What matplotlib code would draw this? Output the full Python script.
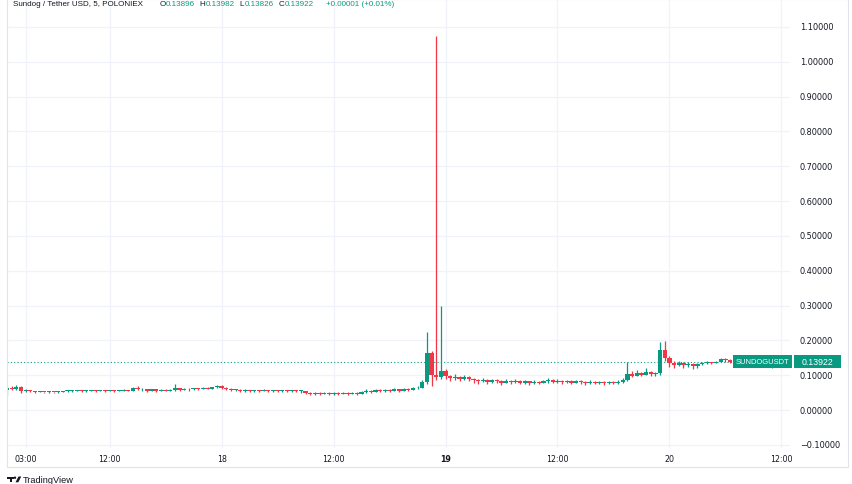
import matplotlib
matplotlib.use('Agg')
import matplotlib.pyplot as plt
from matplotlib.patches import Rectangle, Polygon, Circle
from matplotlib.transforms import Bbox

W, H, DPI = 852, 485, 100

# ---------------- data (30-minute candles, hours since 17 Jan 00:00) ----------------
start_hour = 1.0
step_hours = 0.5
first_open = 0.058

close = [
    0.064, 0.060, 0.067, 0.055, 0.057, 0.054, 0.052, 0.053, 0.051, 0.052,
    0.051, 0.053, 0.054, 0.055, 0.055, 0.056, 0.055, 0.055, 0.056, 0.055,
    0.056, 0.055, 0.056, 0.055, 0.056, 0.057, 0.055, 0.063, 0.059, 0.061,
    0.056, 0.059, 0.055, 0.058, 0.056, 0.058, 0.062, 0.058, 0.061, 0.059,
    0.062, 0.060, 0.064, 0.061, 0.065, 0.068, 0.064, 0.061, 0.057, 0.058,
    0.055, 0.057, 0.054, 0.056, 0.055, 0.057, 0.054, 0.056, 0.055, 0.056,
    0.054, 0.056, 0.054, 0.055, 0.049, 0.046, 0.049, 0.047, 0.050, 0.046,
    0.049, 0.046, 0.050, 0.047, 0.049, 0.046, 0.053, 0.056, 0.052, 0.057,
    0.054, 0.058, 0.055, 0.059, 0.056, 0.061, 0.058, 0.062, 0.064, 0.080,
    0.165, 0.100, 0.095, 0.112, 0.097, 0.091, 0.096, 0.089, 0.095, 0.090,
    0.086, 0.082, 0.087, 0.081, 0.085, 0.083, 0.079, 0.084, 0.080, 0.083,
    0.079, 0.082, 0.078, 0.081, 0.079, 0.082, 0.087, 0.081, 0.084, 0.080,
    0.083, 0.079, 0.082, 0.080, 0.077, 0.081, 0.078, 0.080, 0.077, 0.080,
    0.078, 0.081, 0.085, 0.104, 0.099, 0.107, 0.101, 0.109, 0.102, 0.105,
    0.172, 0.150, 0.134, 0.130, 0.136, 0.128, 0.133, 0.126, 0.131, 0.135,
    0.137, 0.134, 0.139, 0.146, 0.143, 0.138, 0.135, 0.139, 0.136, 0.139,
    0.140, 0.137, 0.141, 0.13896, 0.13922,
]
high = [
    0.070, 0.068, 0.072, 0.068, 0.059, 0.058, 0.055, 0.055, 0.053, 0.054,
    0.053, 0.055, 0.056, 0.057, 0.057, 0.058, 0.057, 0.057, 0.058, 0.057,
    0.058, 0.057, 0.058, 0.057, 0.058, 0.059, 0.058, 0.066, 0.069, 0.063,
    0.060, 0.061, 0.059, 0.060, 0.059, 0.060, 0.074, 0.063, 0.063, 0.062,
    0.064, 0.064, 0.066, 0.066, 0.067, 0.071, 0.072, 0.067, 0.063, 0.060,
    0.059, 0.059, 0.058, 0.058, 0.058, 0.059, 0.057, 0.058, 0.058, 0.058,
    0.058, 0.058, 0.057, 0.057, 0.055, 0.051, 0.052, 0.051, 0.052, 0.051,
    0.052, 0.051, 0.053, 0.051, 0.052, 0.051, 0.056, 0.059, 0.058, 0.060,
    0.059, 0.061, 0.060, 0.062, 0.061, 0.064, 0.063, 0.065, 0.068, 0.086,
    0.224, 0.170, 1.074, 0.300, 0.118, 0.100, 0.103, 0.099, 0.101, 0.097,
    0.093, 0.089, 0.092, 0.088, 0.090, 0.089, 0.086, 0.089, 0.085, 0.088,
    0.085, 0.087, 0.083, 0.086, 0.084, 0.086, 0.093, 0.089, 0.088, 0.086,
    0.087, 0.085, 0.086, 0.085, 0.083, 0.085, 0.083, 0.084, 0.082, 0.084,
    0.083, 0.085, 0.091, 0.138, 0.112, 0.114, 0.110, 0.120, 0.112, 0.110,
    0.196, 0.197, 0.156, 0.140, 0.142, 0.138, 0.139, 0.134, 0.136, 0.139,
    0.140, 0.139, 0.142, 0.150, 0.149, 0.146, 0.140, 0.142, 0.140, 0.141,
    0.143, 0.142, 0.144, 0.1412, 0.13982,
]
low = [
    0.042, 0.057, 0.058, 0.050, 0.053, 0.052, 0.050, 0.051, 0.050, 0.050,
    0.049, 0.050, 0.052, 0.053, 0.053, 0.054, 0.053, 0.053, 0.054, 0.053,
    0.054, 0.053, 0.054, 0.053, 0.054, 0.055, 0.054, 0.055, 0.057, 0.056,
    0.053, 0.055, 0.052, 0.054, 0.054, 0.055, 0.055, 0.055, 0.057, 0.056,
    0.058, 0.058, 0.060, 0.059, 0.060, 0.063, 0.061, 0.058, 0.055, 0.054,
    0.053, 0.053, 0.052, 0.053, 0.053, 0.054, 0.052, 0.053, 0.053, 0.053,
    0.052, 0.053, 0.052, 0.048, 0.045, 0.043, 0.044, 0.044, 0.045, 0.043,
    0.044, 0.043, 0.045, 0.044, 0.045, 0.043, 0.046, 0.050, 0.050, 0.051,
    0.051, 0.052, 0.052, 0.054, 0.053, 0.055, 0.055, 0.057, 0.059, 0.062,
    0.076, 0.069, 0.085, 0.088, 0.088, 0.084, 0.087, 0.082, 0.086, 0.083,
    0.079, 0.076, 0.080, 0.074, 0.079, 0.077, 0.073, 0.077, 0.074, 0.077,
    0.074, 0.076, 0.073, 0.076, 0.074, 0.077, 0.079, 0.077, 0.078, 0.075,
    0.077, 0.075, 0.077, 0.075, 0.073, 0.076, 0.074, 0.075, 0.073, 0.075,
    0.074, 0.076, 0.079, 0.083, 0.095, 0.098, 0.097, 0.100, 0.098, 0.097,
    0.100, 0.140, 0.124, 0.122, 0.126, 0.120, 0.123, 0.119, 0.122, 0.128,
    0.133, 0.131, 0.135, 0.137, 0.138, 0.134, 0.132, 0.135, 0.133, 0.134,
    0.136, 0.134, 0.137, 0.1360, 0.1200,
]

price_ticks = [-0.1, 0.0, 0.1, 0.2, 0.3, 0.4, 0.5, 0.6, 0.7, 0.8, 0.9, 1.0, 1.1]
time_tick_hours = [3, 12, 24, 36, 48, 60, 72, 84]
time_tick_labels = ['03:00', '12:00', '18', '12:00', '19', '12:00', '20', '12:00']
time_tick_bold = [False, False, False, False, True, False, False, False]

title = 'Sundog / Tether USD, 5, POLONIEX'
ohlc_letters = ['O', 'H', 'L', 'C']
ohlc_values = ['0.13896', '0.13982', '0.13826', '0.13922']
change_text = '+0.00001 (+0.01%)'
symbol = 'SUNDOGUSDT'
last_price = 0.13922
last_price_text = '0.13922'

# ---------------- style ----------------
UP = '#089981'
DOWN = '#F23645'
TXT = '#131722'
GRID = '#f0f3fa'
BORDER = '#e0e3eb'
HEAD_FONT = ['Liberation Sans', 'DejaVu Sans']
NARROW_FONT = ['Liberation Sans Narrow', 'Liberation Sans', 'DejaVu Sans']

fig = plt.figure(figsize=(W / DPI, H / DPI), dpi=DPI)
fig.patch.set_facecolor('white')

# plot area in pixels
PL, PR, PT, PB = 7, 790, 0, 449
ax = fig.add_axes([PL / W, (H - PB) / H, (PR - PL) / W, (PB - PT) / H])
ax.set_facecolor('white')
for s in ax.spines.values():
    s.set_visible(False)
ax.set_xticks([])
ax.set_yticks([])

px_per_hour = 9.33
xmin = start_hour
xmax = start_hour + (PR - PL) / px_per_hour
ax.set_xlim(xmin, xmax)
ax.set_ylim(-0.1091, 1.1804)

# grid
for p in price_ticks:
    ax.axhline(p, color=GRID, lw=0.9, zorder=0)
for h in time_tick_hours:
    ax.axvline(h, color=GRID, lw=0.9, zorder=0)

# candles
n = len(close)
xs = [start_hour + i * step_hours for i in range(n)]
opens = [first_open] + close[:-1]
cols = [UP if c >= o else DOWN for o, c in zip(opens, close)]
ax.vlines(xs, low, high, colors=cols, lw=0.9, zorder=3)
bottoms = [min(o, c) for o, c in zip(opens, close)]
heights = [max(abs(c - o), 0.0025) for o, c in zip(opens, close)]
ax.bar(xs, heights, bottom=bottoms, width=0.46, color=cols, linewidth=0, zorder=4)

# last price dotted line
ax.axhline(last_price, color=UP, lw=0.8, linestyle=(0, (1, 2)), zorder=2)

# ---------------- overlay in pixel coordinates ----------------
ov = fig.add_axes([0, 0, 1, 1], zorder=5)
ov.set_xlim(0, W)
ov.set_ylim(H, 0)
ov.axis('off')

renderer = fig.canvas.get_renderer()


def ypix(v):
    return H - ax.transData.transform((xmin, v))[1]


def xpix(h):
    return ax.transData.transform((h, 0))[0]


def fit(t, width):
    fs = t.get_fontsize()
    w = t.get_window_extent(renderer).width
    t.set_fontsize(fs * width / w)


# chart border
ov.add_patch(Rectangle((7, 0), 841, 468, fill=False, edgecolor=BORDER, lw=0.8))

# price axis labels (clipped at plot bottom)
clip = Bbox.from_extents(790, H - 449, W, H)
for p in price_ticks:
    lab = f'{p:.5f}'.replace('-', '\u2212')
    t = ov.text(800, ypix(p), lab, fontsize=5.9, color=TXT, va='center', ha='left')
    t.set_clip_on(True)
    t.set_clip_box(clip)

# time axis labels
for h, lab, b in zip(time_tick_hours, time_tick_labels, time_tick_bold):
    ov.text(xpix(h), 459.5, lab, fontsize=5.7, color=TXT, va='center', ha='center',
            fontweight='bold' if b else 'normal')

# header: pieces laid out sequentially, scaled to span x=13..395
pieces = [(title, TXT, 0.0)]
gaps_before = [1.9, 0.6, 0.6, 0.6]
for L, V, g in zip(ohlc_letters, ohlc_values, gaps_before):
    pieces.append((L, TXT, g))
    pieces.append((V, UP, 0.05))
pieces.append((change_text, UP, 1.5))

base_fs = 10.0
em_px = base_fs * DPI / 72.0
tmp = []
total = 0.0
for s, c, g in pieces:
    t = ov.text(0, 4, s, fontsize=base_fs, family=HEAD_FONT, color=c, va='center', ha='left')
    w = t.get_window_extent(renderer).width
    tmp.append((t, w, g))
    total += w + g * em_px
scale = (395 - 13) / total
xcur = 13.0
for t, w, g in tmp:
    xcur += g * em_px * scale
    t.set_x(xcur)
    t.set_fontsize(base_fs * scale)
    xcur += w * scale

# last-price labels
yl = ypix(last_price)
ov.add_patch(Rectangle((733, yl - 6.5), 59, 13, color=UP, lw=0))
ov.add_patch(Rectangle((794, yl - 6.5), 47, 13, color=UP, lw=0))
st = ov.text(762.5, yl + 0.3, symbol, fontsize=6.0, family=NARROW_FONT, color='white',
             va='center', ha='center')
fit(st, 53)
pt = ov.text(817.5, yl + 0.3, last_price_text, fontsize=6.0, family=HEAD_FONT,
             color='white', va='center', ha='center')
fit(pt, 32)

# TradingView logo
ov.add_patch(Rectangle((7, 477.5), 6.5, 2.2, color=TXT, lw=0))
ov.add_patch(Rectangle((9.7, 477.5), 2.4, 5.8, color=TXT, lw=0))
ov.add_patch(Circle((15.0, 478.7), 1.2, color=TXT, lw=0))
ov.add_patch(Polygon([(15.5, 483.3), (18.3, 483.3), (21.3, 477.5), (18.5, 477.5)],
                     closed=True, color=TXT, lw=0))
tv = ov.text(23, 480.5, 'TradingView', fontsize=6, family=HEAD_FONT, color=TXT,
             va='center', ha='left')
fit(tv, 52)

fig.savefig('out.png', dpi=DPI, facecolor='white')
